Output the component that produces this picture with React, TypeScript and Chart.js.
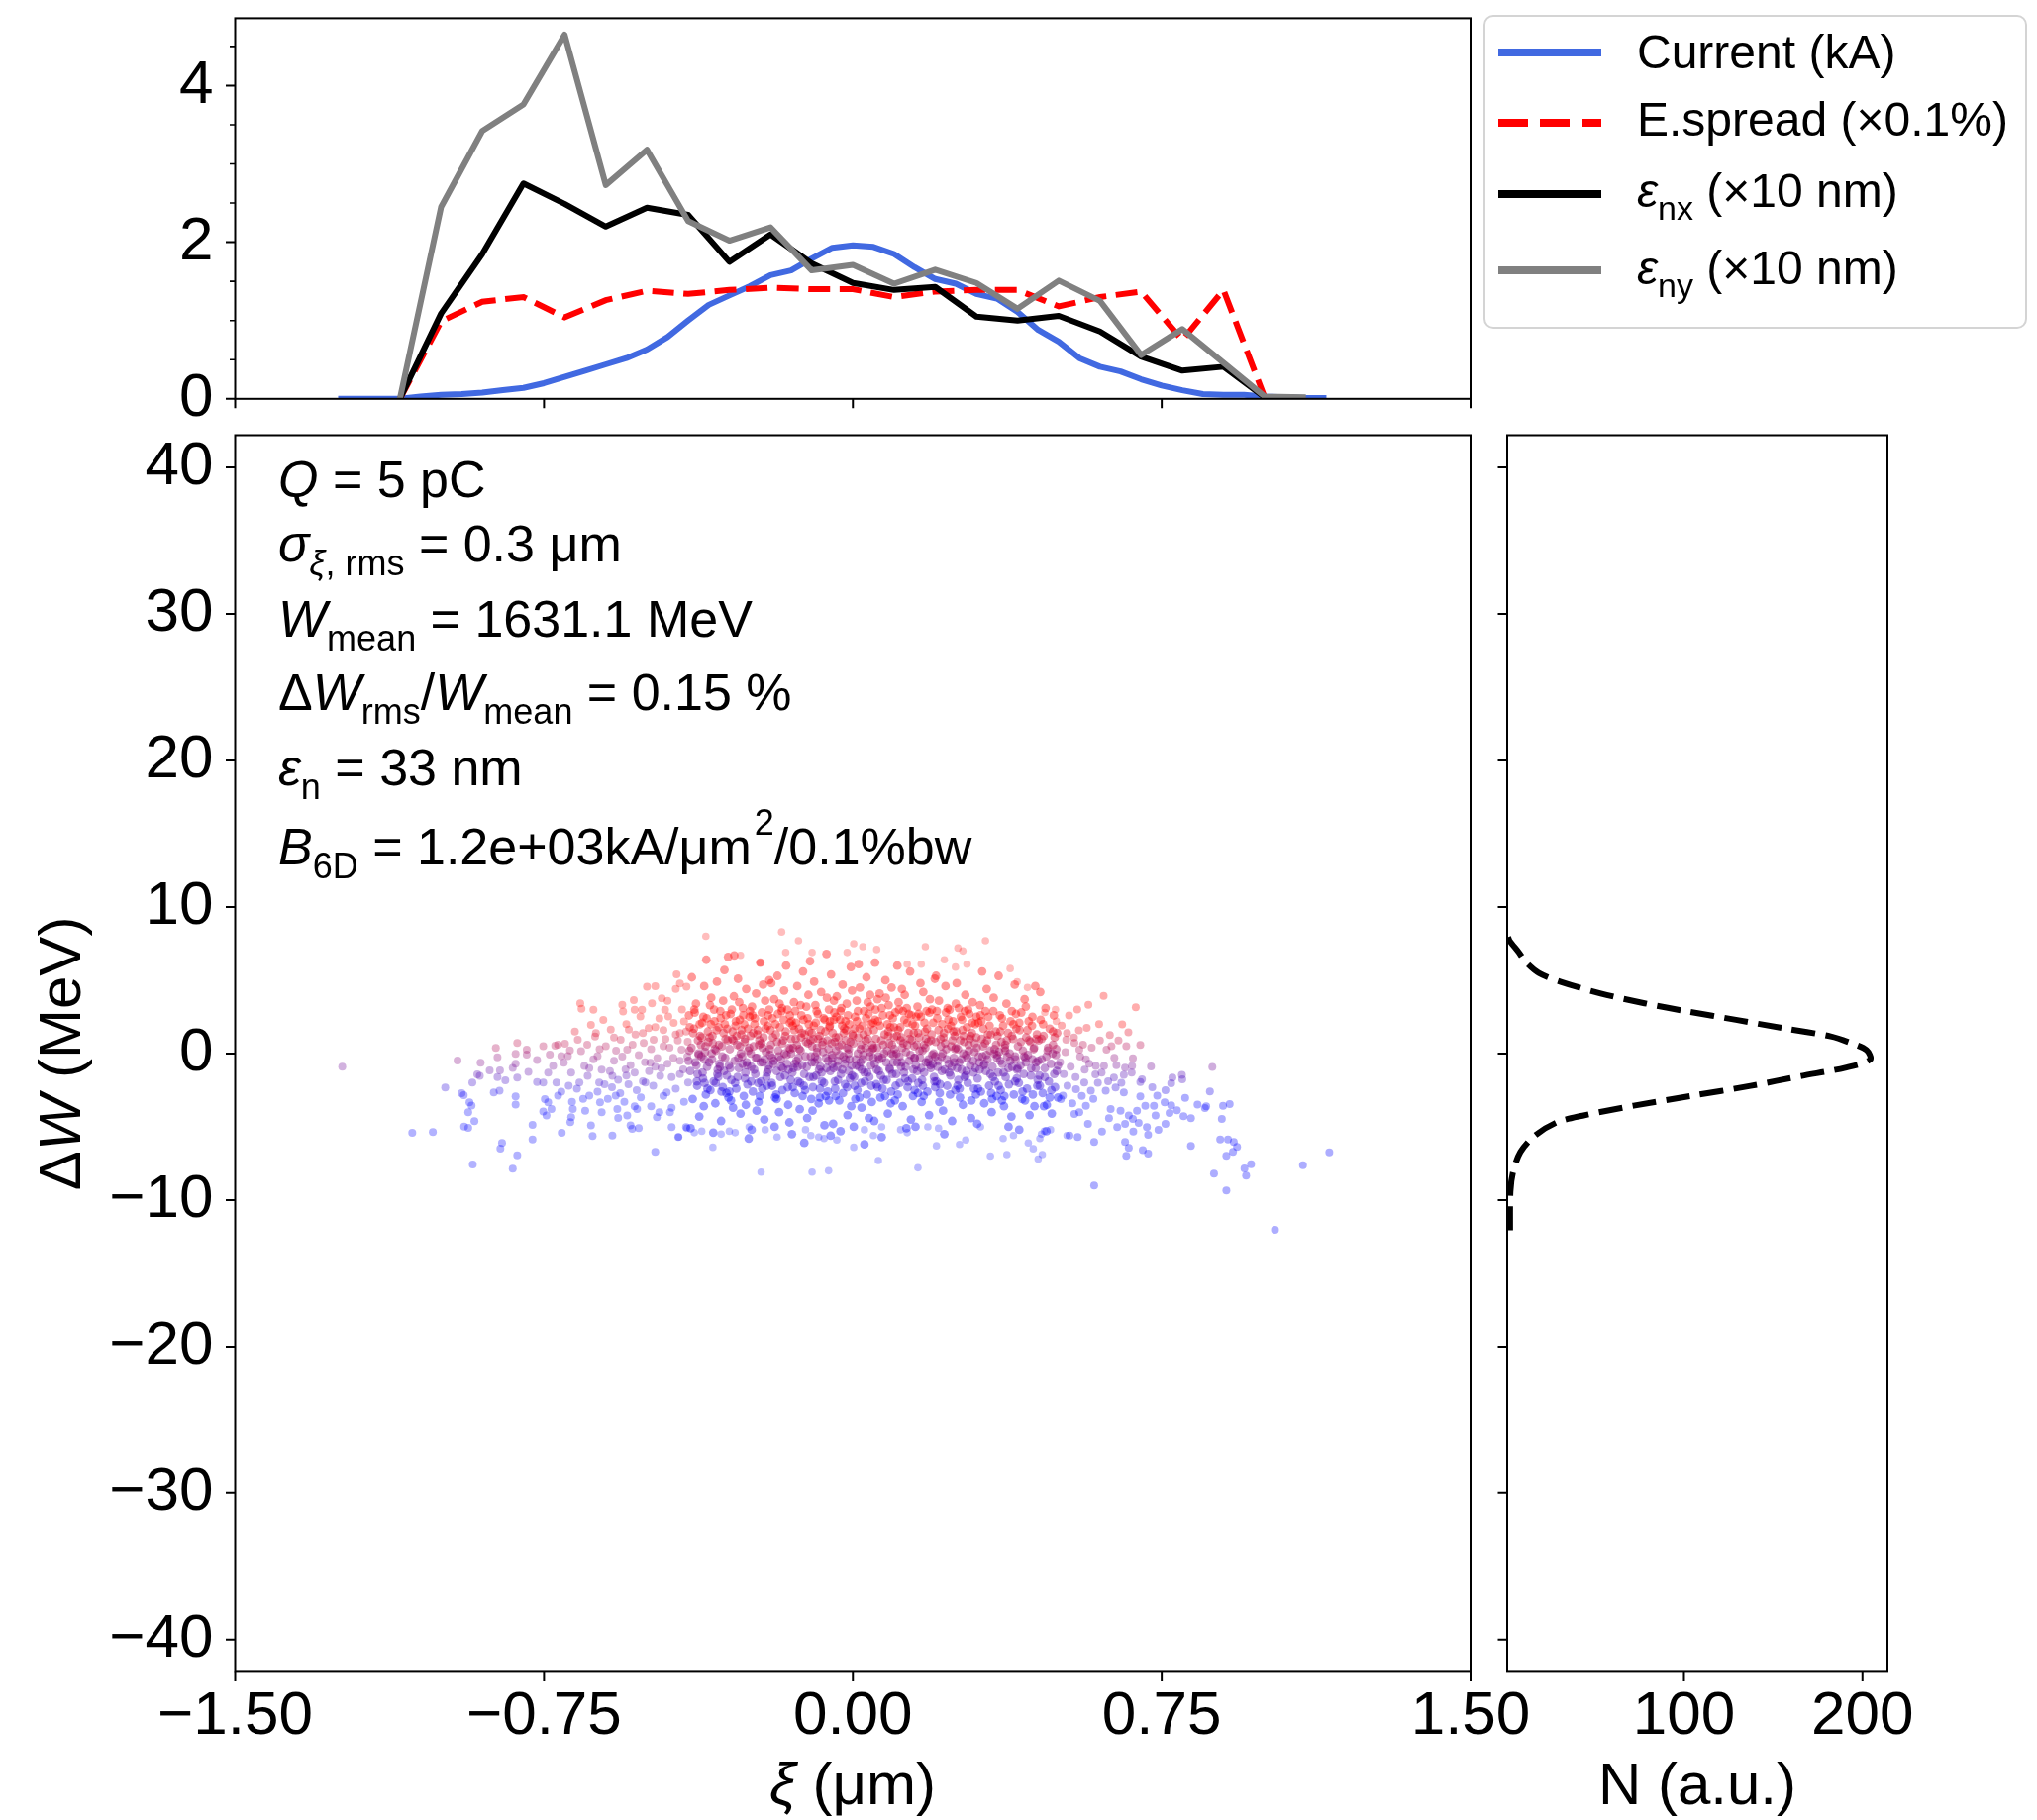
import React, { useEffect, useRef } from 'react';
import { Chart, registerables } from 'chart.js';
Chart.register(...registerables);

const FONT = '"Liberation Sans", Arial, Helvetica, sans-serif';

// ---------- top panel ----------
const xiFine = [-1.25, -1.2, -1.15, -1.1, -1.05, -1.0, -0.95, -0.9, -0.85, -0.8, -0.75, -0.7, -0.65, -0.6, -0.55, -0.5, -0.45, -0.4, -0.35, -0.3, -0.25, -0.2, -0.15, -0.1, -0.05, 0.0, 0.05, 0.1, 0.15, 0.2, 0.25, 0.3, 0.35, 0.4, 0.45, 0.5, 0.55, 0.6, 0.65, 0.7, 0.75, 0.8, 0.85, 0.9, 0.95, 1.0, 1.05, 1.1, 1.15];
const currentKA = [0, 0, 0, 0, 0.03, 0.05, 0.06, 0.08, 0.11, 0.14, 0.2, 0.28, 0.36, 0.44, 0.52, 0.63, 0.79, 1.0, 1.2, 1.32, 1.44, 1.58, 1.64, 1.79, 1.93, 1.96, 1.94, 1.85, 1.68, 1.53, 1.47, 1.34, 1.28, 1.11, 0.88, 0.73, 0.52, 0.41, 0.35, 0.25, 0.17, 0.11, 0.06, 0.05, 0.05, 0.03, 0.02, 0.01, 0.01];
const xiCoarse = [-1.1, -1.0, -0.9, -0.8, -0.7, -0.6, -0.5, -0.4, -0.3, -0.2, -0.1, 0.0, 0.1, 0.2, 0.3, 0.4, 0.5, 0.6, 0.7, 0.8, 0.9, 1.0, 1.1];
const energySpread = [0, 0.99, 1.24, 1.3, 1.04, 1.26, 1.38, 1.34, 1.39, 1.42, 1.4, 1.4, 1.3, 1.37, 1.39, 1.39, 1.18, 1.3, 1.37, 0.75, 1.39, 0.02];
const emitX = [0, 1.09, 1.85, 2.75, 2.49, 2.2, 2.44, 2.35, 1.75, 2.1, 1.73, 1.48, 1.39, 1.43, 1.05, 1.0, 1.06, 0.86, 0.54, 0.36, 0.41, 0.02];
const emitY = [0, 2.45, 3.42, 3.76, 4.65, 2.73, 3.18, 2.27, 2.02, 2.19, 1.64, 1.71, 1.47, 1.65, 1.48, 1.15, 1.51, 1.25, 0.56, 0.89, 0.46, 0.03, 0.02];
const topYTicks = [0, 2, 4];
const topYMinor = [0.5, 1, 1.5, 2.5, 3, 3.5, 4.5];
const xiTicks = [-1.5, -0.75, 0, 0.75, 1.5];

// ---------- main panel ----------
const dwTicks = [-40, -30, -20, -10, 0, 10, 20, 30, 40];

const particlesLeft: [number, number][] = [
[-1.24,-0.9],[-1.07,-5.41],[-1.02,-5.36],[-0.96,-0.47],[-0.99,-2.32],[-0.95,-2.7],[-0.945,-2.85],[-0.924,-1.98],[-0.912,-1.42],[-0.904,-0.63],[-0.906,-1.52],[-0.931,-3.33],[-0.926,-3.55],[-0.934,-4.01],[-0.919,-4.62],[-0.944,-4.98],[-0.934,-5.07],[-0.923,-7.57],
[-0.882,-1.15],[-0.872,-2.66],[-0.858,-2.54],[-0.867,0.39],[-0.863,-0.25],[-0.863,-1.6],[-0.857,-1.15],[-0.844,-1.82],[-0.826,-0.99],[-0.819,-0.7],[-0.819,-0.02],[-0.815,0.72],[-0.815,-1.64],[-0.819,-2.93],[-0.819,-3.49],[-0.852,-6.11],[-0.856,-6.49],[-0.815,-6.94],[-0.826,-7.86],
[-0.788,-1.26],[-0.792,0.27],[-0.792,-0.07],[-0.778,-4.87],[-0.778,-5.86],[-0.767,-0.45],[-0.767,-1.94],[-0.752,0.5],[-0.752,-1.98],[-0.752,-3.96],[-0.748,-3.11],[-0.74,-3.33],[-0.74,-1.3],[-0.736,-0.07],[-0.723,0.54],[-0.716,0.61],[-0.699,0.68],[-0.708,-2.61],[-0.708,-0.18],[-0.707,-5.41],[-0.702,-0.63],[-0.732,-3.78],[-0.72,-1.98],[-0.728,-0.85],[-0.716,-2.88],[-0.744,-4.23],
[-0.692,-0.18],[-0.687,0.21],[-0.684,-1.3],[-0.682,-3.29],[-0.68,-3.78],[-0.684,-4.35],[-0.686,-4.69],[-0.664,-1.98],[-0.662,3.43],[-0.659,3.05],[-0.668,0.95],[-0.66,0.16],[-0.652,-0.85],[-0.644,-1.53],[-0.64,-2.88],[-0.636,-4.91],[-0.632,-5.63],[-0.636,1.96],[-0.63,2.98],[-0.624,1.4],[-0.626,1.17],[-0.62,-0.18],[-0.616,-1.98],[-0.614,-3.33],[-0.61,-4.01],[-0.606,2.3],[-0.67,-2.4],[-0.655,-3.1],[-0.645,0.6],[-0.63,-0.4],[-0.62,-2.6],[-0.61,-1.1],[-0.69,-2.2],[-0.64,-1.0],[-0.675,1.5],[-0.615,0.3],[-0.65,-3.9],[-0.603,-2.1],
[-0.6,0.5],[-0.588,1.63],[-0.584,-5.59],[-0.584,-1.53],[-0.576,-2.88],[-0.572,-3.78],[-0.564,0.95],[-0.56,3.32],[-0.558,2.87],[-0.552,-1.08],[-0.548,0.27],[-0.548,-4.23],[-0.544,1.63],[-0.54,-4.91],[-0.536,-5.14],[-0.532,3.65],[-0.53,2.98],[-0.528,1.29],[-0.524,-3.78],[-0.52,-5.09],[-0.516,2.53],[-0.512,2.98],[-0.508,0.72],[-0.504,-1.98],[-0.59,-1.2],[-0.585,-2.3],[-0.58,-0.5],[-0.575,0.2],[-0.57,-1.8],[-0.565,-2.7],[-0.56,-0.2],[-0.555,-3.3],[-0.55,-1.5],[-0.545,-2.1],[-0.54,-0.8],[-0.535,0.6],[-0.53,-1.3],[-0.525,-2.5],[-0.52,-0.1],[-0.515,-3.0],[-0.51,1.4],[-0.505,-0.6],[-0.595,-3.1],[-0.58,1.1],[-0.55,2.0],[-0.53,-3.6],[-0.51,-1.9],[-0.57,-4.4],
[-0.5,4.56],[-0.496,1.74],[-0.492,-0.63],[-0.488,3.43],[-0.484,0.95],[-0.48,4.6],[-0.476,-4.35],[-0.48,-6.71],[-0.468,-1.53],[-0.464,3.77],[-0.46,0.5],[-0.456,2.98],[-0.452,-2.66],[-0.448,2.53],[-0.444,-4.01],[-0.44,-5.02],[-0.436,-0.29],[-0.43,4.4],[-0.428,5.41],[-0.424,-5.7],[-0.42,4.78],[-0.42,1.4],[-0.416,0.27],[-0.412,-1.08],[-0.405,-5.02],[-0.404,4.56],[-0.4,-1.98],[-0.495,-1.2],[-0.49,0.3],[-0.485,-2.2],[-0.48,1.8],[-0.475,-0.3],[-0.47,2.4],[-0.465,-1.0],[-0.46,-2.9],[-0.455,1.0],[-0.45,-0.7],[-0.445,0.4],[-0.44,-1.6],[-0.435,2.1],[-0.43,-2.4],[-0.425,0.9],[-0.42,-0.5],[-0.415,3.0],[-0.41,-3.3],[-0.405,1.5],[-0.402,-0.2],[-0.49,-3.6],[-0.47,-4.0],[-0.45,3.6],[-0.43,1.3],[-0.41,2.2],[-0.44,-3.7],[-0.46,1.6],[-0.48,-0.9],[-0.42,-1.4],[-0.401,0.8]
];

const particlesCore: [number, number][] = [
[-0.398,2.6],[-0.395,-1.2],[-0.392,0.4],[-0.389,-3.1],[-0.386,1.7],[-0.383,-0.6],[-0.381,3.4],[-0.378,-2.2],[-0.376,0.9],[-0.373,-4.3],[-0.371,1.2],[-0.368,-0.2],[-0.366,2.1],[-0.364,-1.7],[-0.361,4.6],[-0.359,0.1],[-0.357,-2.8],[-0.356,6.4],[-0.354,-0.9],[-0.352,1.5],[-0.394,-5.1],[-0.385,3.0],[-0.377,-1.4],[-0.369,0.6],[-0.362,-3.6],[-0.355,2.4],[-0.391,5.2],[-0.374,-0.1],[-0.36,-2.0],[-0.351,0.8],
[-0.348,1.1],[-0.346,-2.5],[-0.344,3.8],[-0.342,-0.4],[-0.34,0.7],[-0.338,-1.9],[-0.336,2.2],[-0.334,-3.4],[-0.332,0.2],[-0.33,4.9],[-0.328,-1.1],[-0.326,1.8],[-0.324,-0.7],[-0.322,2.9],[-0.32,-4.6],[-0.318,0.5],[-0.316,-2.3],[-0.314,1.4],[-0.312,5.7],[-0.31,-0.3],[-0.308,2.6],[-0.306,-1.5],[-0.304,0.9],[-0.302,-3.0],[-0.347,3.3],[-0.339,-5.4],[-0.331,1.6],[-0.323,-0.9],[-0.315,3.6],[-0.307,-2.7],[-0.343,0.0],[-0.327,-1.6],[-0.311,2.0],[-0.303,6.6],
[-0.299,0.3],[-0.297,2.7],[-0.295,-1.8],[-0.293,1.0],[-0.291,-3.7],[-0.289,3.9],[-0.287,-0.5],[-0.285,1.9],[-0.283,-2.4],[-0.281,0.6],[-0.279,5.1],[-0.277,-1.0],[-0.275,2.3],[-0.273,-4.1],[-0.271,1.3],[-0.269,-0.2],[-0.267,3.1],[-0.265,-2.9],[-0.263,0.8],[-0.261,-1.3],[-0.259,4.4],[-0.257,-0.8],[-0.255,1.7],[-0.253,-5.8],[-0.251,2.5],[-0.296,-3.2],[-0.288,6.7],[-0.28,-1.6],[-0.272,0.0],[-0.264,2.0],[-0.256,-2.1],[-0.292,1.5],[-0.276,3.5],[-0.268,-0.7],[-0.26,-3.5],[-0.252,0.4],
[-0.249,1.2],[-0.247,-0.9],[-0.245,3.2],[-0.243,-2.6],[-0.241,0.5],[-0.239,2.0],[-0.237,-1.4],[-0.235,4.1],[-0.233,-0.3],[-0.231,1.6],[-0.229,-3.3],[-0.227,0.9],[-0.225,6.2],[-0.223,-1.9],[-0.221,2.8],[-0.219,-0.6],[-0.217,1.1],[-0.215,-4.5],[-0.213,3.6],[-0.211,0.1],[-0.209,-2.2],[-0.207,1.9],[-0.205,-1.1],[-0.203,5.0],[-0.201,-0.1],[-0.246,-5.2],[-0.238,2.4],[-0.23,-2.0],[-0.222,0.7],[-0.214,-0.4],[-0.206,2.6],[-0.242,1.4],[-0.226,-2.9],[-0.218,4.7],[-0.21,-1.6],[-0.202,0.3],[-0.234,-3.9],[-0.25,2.9],
[-0.199,0.6],[-0.197,-2.0],[-0.195,2.4],[-0.193,-0.7],[-0.191,3.7],[-0.189,-3.0],[-0.187,1.3],[-0.185,-1.2],[-0.183,5.3],[-0.181,0.2],[-0.179,-4.0],[-0.177,1.8],[-0.175,-0.4],[-0.173,2.9],[-0.171,-2.5],[-0.169,0.9],[-0.167,4.3],[-0.165,-1.5],[-0.163,1.5],[-0.161,-0.1],[-0.159,3.0],[-0.157,-3.5],[-0.155,0.4],[-0.153,2.1],[-0.151,-1.8],[-0.198,4.8],[-0.19,-5.0],[-0.182,2.7],[-0.174,-0.9],[-0.166,0.0],[-0.158,-2.3],[-0.15,1.0],[-0.194,1.1],[-0.186,-2.8],[-0.178,3.4],[-0.17,-1.0],[-0.162,6.0],[-0.154,-4.7],[-0.196,-0.3],[-0.172,0.7],
[-0.149,2.2],[-0.147,-1.3],[-0.145,0.4],[-0.143,3.5],[-0.141,-2.7],[-0.139,1.0],[-0.137,-0.5],[-0.135,4.6],[-0.133,-1.9],[-0.131,1.7],[-0.129,-3.8],[-0.127,0.2],[-0.125,2.6],[-0.123,-0.8],[-0.121,5.6],[-0.119,-2.2],[-0.117,1.3],[-0.115,-0.2],[-0.113,3.2],[-0.111,-4.4],[-0.109,0.7],[-0.107,2.0],[-0.105,-1.6],[-0.103,0.9],[-0.101,-3.1],[-0.148,-5.5],[-0.14,2.9],[-0.132,-0.3],[-0.124,1.4],[-0.116,-2.5],[-0.108,4.0],[-0.1,-0.6],[-0.144,-1.0],[-0.136,0.6],[-0.128,-2.0],[-0.12,2.3],[-0.112,-0.9],[-0.104,6.3],[-0.146,1.9],[-0.118,-6.1],
[-0.099,0.5],[-0.097,-2.3],[-0.095,1.9],[-0.093,-0.6],[-0.091,3.3],[-0.089,-1.5],[-0.087,0.1],[-0.085,2.7],[-0.083,-3.4],[-0.081,1.2],[-0.079,-0.9],[-0.077,4.2],[-0.075,-1.9],[-0.073,0.8],[-0.071,2.4],[-0.069,-4.9],[-0.067,1.5],[-0.065,-0.3],[-0.063,3.8],[-0.061,-2.6],[-0.059,0.3],[-0.057,1.8],[-0.055,-1.2],[-0.053,5.4],[-0.051,-0.1],[-0.098,-3.9],[-0.09,2.1],[-0.082,-1.1],[-0.074,0.6],[-0.066,-2.9],[-0.058,3.0],[-0.05,-0.7],[-0.094,4.9],[-0.086,-0.4],[-0.078,1.6],[-0.07,-2.0],[-0.062,0.9],[-0.054,-5.6],[-0.096,1.0],[-0.08,-3.0],[-0.064,6.8],[-0.056,2.2],
[-0.049,1.4],[-0.047,-1.0],[-0.045,2.8],[-0.043,-2.4],[-0.041,0.2],[-0.039,3.9],[-0.037,-0.5],[-0.035,1.1],[-0.033,-3.2],[-0.031,2.3],[-0.029,-1.4],[-0.027,0.6],[-0.025,4.7],[-0.023,-0.2],[-0.021,1.7],[-0.019,-2.1],[-0.017,0.9],[-0.015,3.4],[-0.013,-4.2],[-0.011,0.0],[-0.009,2.0],[-0.007,-1.7],[-0.005,5.9],[-0.003,-0.8],[-0.001,1.3],[-0.048,-4.8],[-0.04,2.5],[-0.032,-0.1],[-0.024,-2.7],[-0.016,1.6],[-0.008,-0.4],[-0.044,0.8],[-0.036,-1.8],[-0.028,3.1],[-0.02,-0.7],[-0.012,2.6],[-0.004,-3.6],[-0.046,3.6],[-0.03,-5.3],[-0.014,0.4],[-0.042,-2.9],[-0.026,1.9],[-0.01,-1.2],[-0.002,4.3],
[0.001,0.7],[0.003,-1.6],[0.005,2.5],[0.007,-0.4],[0.009,3.6],[0.011,-2.5],[0.013,1.1],[0.015,-0.9],[0.017,4.5],[0.019,0.3],[0.021,-3.7],[0.023,1.9],[0.025,-0.1],[0.027,2.9],[0.029,-1.9],[0.031,0.9],[0.033,5.2],[0.035,-1.3],[0.037,1.5],[0.039,-4.4],[0.041,0.1],[0.043,3.2],[0.045,-2.2],[0.047,0.6],[0.049,2.1],[0.002,-5.0],[0.01,2.2],[0.018,-0.6],[0.026,1.3],[0.034,-2.8],[0.042,4.0],[0.05,-0.3],[0.006,-3.1],[0.014,6.1],[0.022,-1.1],[0.03,0.4],[0.038,2.7],[0.046,-3.3],[0.004,1.7],[0.02,-2.0],[0.036,3.5],[0.044,-0.8],[0.012,0.0],[0.028,-6.2],
[0.051,1.6],[0.053,-0.7],[0.055,3.0],[0.057,-2.1],[0.059,0.4],[0.061,2.2],[0.063,-1.2],[0.065,4.1],[0.067,-3.0],[0.069,0.9],[0.071,-0.3],[0.073,2.6],[0.075,-1.8],[0.077,1.3],[0.079,5.0],[0.081,-0.6],[0.083,0.2],[0.085,-4.1],[0.087,3.3],[0.089,-1.0],[0.091,1.8],[0.093,-2.6],[0.095,0.6],[0.097,2.4],[0.099,-0.1],[0.052,-4.6],[0.06,3.7],[0.068,-1.5],[0.076,0.0],[0.084,2.0],[0.092,-3.4],[0.1,1.1],[0.056,1.0],[0.064,-0.4],[0.072,-2.4],[0.08,3.8],[0.088,0.7],[0.096,-1.4],[0.054,6.2],[0.07,-5.7],[0.086,1.5],[0.094,4.5],
[0.101,0.3],[0.103,2.8],[0.105,-1.4],[0.107,1.2],[0.109,-2.8],[0.111,3.5],[0.113,-0.2],[0.115,1.8],[0.117,-0.9],[0.119,4.4],[0.121,-3.6],[0.123,0.7],[0.125,2.3],[0.127,-1.7],[0.129,0.1],[0.131,3.1],[0.133,-2.3],[0.135,1.4],[0.137,-0.5],[0.139,5.6],[0.141,-4.5],[0.143,0.9],[0.145,2.0],[0.147,-1.1],[0.149,0.5],[0.102,-3.2],[0.11,1.6],[0.118,-0.6],[0.126,4.0],[0.134,-1.9],[0.142,2.6],[0.15,-0.3],[0.106,0.0],[0.114,-2.0],[0.122,2.9],[0.13,-5.1],[0.138,1.0],[0.146,-2.9],[0.108,6.0],[0.132,0.6],
[0.151,1.9],[0.153,-0.8],[0.155,0.6],[0.157,3.2],[0.159,-2.0],[0.161,1.1],[0.163,-0.3],[0.165,2.5],[0.167,-3.3],[0.169,0.2],[0.171,4.2],[0.173,-1.3],[0.175,1.5],[0.177,-0.6],[0.179,2.9],[0.181,-2.6],[0.183,0.8],[0.185,-4.2],[0.187,3.7],[0.189,-1.0],[0.191,1.3],[0.193,-0.1],[0.195,2.1],[0.197,-1.6],[0.199,5.1],[0.152,-5.0],[0.16,2.7],[0.168,-1.8],[0.176,0.4],[0.184,-0.4],[0.192,3.0],[0.2,-2.3],[0.156,-1.2],[0.164,4.8],[0.172,-2.9],[0.18,1.7],[0.188,-0.8],[0.196,0.0],
[0.201,0.8],[0.203,-1.9],[0.205,2.4],[0.207,-0.5],[0.209,3.6],[0.211,-2.7],[0.213,1.0],[0.215,-0.2],[0.217,2.0],[0.219,-3.9],[0.221,1.4],[0.223,-1.1],[0.225,4.6],[0.227,0.3],[0.229,-2.2],[0.231,1.7],[0.233,-0.7],[0.235,3.0],[0.237,-1.5],[0.239,0.5],[0.241,-4.6],[0.243,2.2],[0.245,-0.3],[0.247,1.2],[0.249,-2.5],[0.202,5.3],[0.21,-3.3],[0.218,0.0],[0.226,2.8],[0.234,-1.3],[0.242,0.9],[0.25,3.4],[0.206,-0.9],[0.222,-5.5],[0.238,1.9],[0.246,-0.6],
[0.251,1.5],[0.253,-1.0],[0.255,0.3],[0.257,3.1],[0.259,-2.4],[0.261,0.9],[0.263,-0.4],[0.265,2.3],[0.267,-3.5],[0.269,1.2],[0.271,-1.6],[0.273,4.0],[0.275,-0.1],[0.277,1.8],[0.279,-2.0],[0.281,0.6],[0.283,2.7],[0.285,-0.8],[0.287,-4.4],[0.289,1.4],[0.291,3.5],[0.293,-1.3],[0.295,0.1],[0.297,2.0],[0.299,-2.8],[0.252,4.8],[0.26,-3.0],[0.268,0.0],[0.276,-1.2],[0.284,1.0],[0.292,-0.5],[0.3,2.5],[0.256,-1.8],[0.272,2.9],[0.288,-3.2],[0.296,0.7],
[0.301,0.4],[0.303,-1.7],[0.305,2.1],[0.307,-0.6],[0.309,3.3],[0.311,-2.6],[0.313,1.0],[0.315,-0.2],[0.317,1.7],[0.319,-3.4],[0.321,0.7],[0.323,-1.2],[0.325,4.4],[0.327,-0.4],[0.329,2.5],[0.331,-2.2],[0.333,0.2],[0.335,1.3],[0.337,-4.0],[0.339,-0.9],[0.341,2.9],[0.343,0.0],[0.345,-1.9],[0.347,1.5],[0.349,-2.9],[0.302,-4.8],[0.31,2.6],[0.318,-0.8],[0.326,0.9],[0.334,-1.4],[0.342,3.8],[0.35,-0.3],[0.314,5.6],[0.338,-3.1],
[0.351,1.2],[0.353,-1.3],[0.355,0.1],[0.357,2.6],[0.359,-2.5],[0.361,0.8],[0.363,-0.7],[0.365,1.9],[0.367,-3.6],[0.369,0.4],[0.371,-1.6],[0.373,3.4],[0.375,-0.2],[0.377,1.4],[0.379,-2.1],[0.381,0.0],[0.383,2.2],[0.385,-4.3],[0.387,-0.9],[0.389,1.0],[0.391,-2.8],[0.393,4.7],[0.395,-0.4],[0.397,1.7],[0.399,-1.1],[0.354,5.3],[0.362,-3.2],[0.37,0.6],[0.378,-5.0],[0.386,2.9],[0.394,-1.9],[0.358,-0.5],
[0.401,0.5],[0.403,-2.0],[0.405,1.6],[0.407,-0.8],[0.409,2.8],[0.411,-3.1],[0.413,0.2],[0.415,-1.4],[0.417,3.7],[0.419,-0.3],[0.421,1.1],[0.423,-2.4],[0.425,-0.1],[0.427,2.2],[0.429,-4.2],[0.431,0.8],[0.433,-1.0],[0.435,1.9],[0.437,-2.8],[0.439,0.3],[0.441,-3.6],[0.443,4.6],[0.445,-0.6],[0.447,1.3],[0.449,-1.8],[0.404,-5.2],[0.42,3.2],[0.436,-0.4],
[0.451,0.9],[0.453,-1.5],[0.456,2.3],[0.458,-0.4],[0.461,-2.7],[0.463,1.2],[0.466,-1.0],[0.468,3.1],[0.471,-3.5],[0.473,0.2],[0.476,-1.9],[0.478,1.7],[0.481,-0.7],[0.483,-4.1],[0.486,0.6],[0.488,2.6],[0.491,-2.3],[0.493,-0.1],[0.496,1.4],[0.498,-3.0],[0.455,4.2],[0.47,-5.3],[0.485,0.0],[0.495,-1.2]
];

const particlesCoreDense: [number, number][] = [
[-0.397,0.2],[-0.388,1.4],[-0.38,-0.8],[-0.372,2.0],[-0.365,-1.3],[-0.358,0.5],[-0.353,-2.4],[-0.399,-0.5],[-0.384,2.8],[-0.375,0.0],[-0.367,1.1],[-0.361,-0.4],[-0.396,1.8],[-0.379,-1.9],[-0.363,2.5],
[-0.349,-0.6],[-0.341,1.2],[-0.335,0.3],[-0.329,-1.4],[-0.321,2.4],[-0.317,-0.2],[-0.309,1.0],[-0.301,-0.8],[-0.345,2.0],[-0.333,-2.0],[-0.325,0.6],[-0.313,-1.2],[-0.305,1.7],[-0.337,3.0],[-0.319,-2.6],
[-0.298,-1.0],[-0.29,0.9],[-0.284,2.2],[-0.278,-0.3],[-0.27,1.6],[-0.262,-1.7],[-0.254,0.2],[-0.294,3.0],[-0.286,-2.0],[-0.274,0.5],[-0.266,2.6],[-0.258,-0.6],[-0.282,1.2],[-0.3,-2.6],[-0.262,1.0],
[-0.248,0.0],[-0.24,-1.1],[-0.232,1.3],[-0.224,-0.6],[-0.216,2.2],[-0.208,-1.3],[-0.244,2.6],[-0.236,-0.3],[-0.228,0.6],[-0.22,-2.4],[-0.212,1.7],[-0.204,-0.8],[-0.247,-1.9],[-0.219,0.4],[-0.203,3.0],
[-0.2,1.6],[-0.192,-0.5],[-0.184,0.8],[-0.176,-1.6],[-0.168,2.3],[-0.16,-0.7],[-0.152,0.3],[-0.196,-2.2],[-0.188,2.0],[-0.18,-0.2],[-0.164,1.2],[-0.156,-1.1],[-0.172,3.1],[-0.185,-3.1],[-0.153,2.6],
[-0.15,0.0],[-0.142,1.6],[-0.134,-0.9],[-0.126,1.1],[-0.118,-1.4],[-0.11,2.4],[-0.102,-0.2],[-0.146,-2.3],[-0.138,2.1],[-0.13,0.3],[-0.122,-2.9],[-0.114,0.8],[-0.106,1.5],[-0.127,3.3],[-0.141,-0.7],
[-0.1,1.4],[-0.092,-0.2],[-0.084,1.0],[-0.076,-1.3],[-0.068,2.3],[-0.06,-0.5],[-0.052,0.7],[-0.096,-1.6],[-0.088,2.9],[-0.072,0.1],[-0.064,-1.0],[-0.056,1.9],[-0.08,-2.4],[-0.058,-3.2],[-0.087,0.4],
[-0.05,-0.3],[-0.042,1.1],[-0.034,0.5],[-0.026,-1.1],[-0.018,2.2],[-0.01,0.3],[-0.002,-1.5],[-0.046,2.3],[-0.038,-0.9],[-0.022,1.4],[-0.014,-2.3],[-0.006,0.8],[-0.03,2.9],[-0.044,-1.9],[-0.018,-0.4],
[0.0,1.2],[0.008,-0.8],[0.016,1.7],[0.024,-0.4],[0.032,2.4],[0.04,-1.6],[0.048,0.3],[0.004,-2.2],[0.012,2.9],[0.02,0.6],[0.028,-1.3],[0.036,1.0],[0.044,2.0],[0.016,-3.0],[0.04,-0.2],
[0.05,0.4],[0.058,-1.1],[0.066,1.9],[0.074,0.6],[0.082,-1.8],[0.09,2.6],[0.098,-0.6],[0.054,2.3],[0.062,-0.2],[0.078,-2.9],[0.086,1.2],[0.094,0.0],[0.07,3.1],[0.06,-2.3],[0.09,-1.1],
[0.1,1.8],[0.108,-0.6],[0.116,0.9],[0.124,-1.3],[0.132,2.1],[0.14,-0.1],[0.148,1.4],[0.104,-2.2],[0.112,3.0],[0.12,0.4],[0.128,-0.9],[0.136,2.7],[0.144,-1.7],[0.118,1.1],[0.15,-2.5],
[0.15,-0.3],[0.158,1.4],[0.166,-1.0],[0.174,2.1],[0.182,-0.6],[0.19,0.9],[0.198,-1.9],[0.154,2.5],[0.162,0.2],[0.17,-2.2],[0.178,1.0],[0.186,2.8],[0.194,-0.7],[0.173,0.6],[0.158,-2.7],
[0.2,-0.2],[0.208,1.6],[0.216,-1.2],[0.224,0.7],[0.232,2.3],[0.24,-0.9],[0.248,0.3],[0.204,2.9],[0.212,-2.1],[0.22,1.1],[0.228,-0.4],[0.236,-2.8],[0.244,1.5],[0.214,0.5],[0.23,3.1],
[0.25,0.4],[0.258,-0.6],[0.266,1.6],[0.274,-1.5],[0.282,0.2],[0.29,2.1],[0.298,-1.0],[0.254,-2.2],[0.262,2.5],[0.27,0.8],[0.278,-0.3],[0.286,1.2],[0.294,-2.4],[0.264,-1.1],[0.28,3.0],
[0.3,1.1],[0.308,-1.1],[0.316,0.5],[0.324,-0.1],[0.332,1.9],[0.34,-1.6],[0.348,0.6],[0.304,-2.4],[0.312,2.2],[0.32,-0.7],[0.328,1.3],[0.336,-2.7],[0.344,0.3],[0.322,2.9],[0.306,-0.2],
[0.35,-0.1],[0.358,1.5],[0.366,-1.3],[0.374,0.9],[0.382,-0.5],[0.39,2.0],[0.398,-1.7],[0.354,-2.2],[0.362,2.4],[0.37,0.2],[0.378,-1.0],[0.386,1.2],[0.394,-0.2],[0.368,-2.9],[0.396,2.7],
[0.4,-1.0],[0.408,0.8],[0.416,-0.2],[0.424,1.6],[0.432,-1.5],[0.44,0.4],[0.448,-2.2],[0.404,2.1],[0.412,-2.6],[0.42,-0.6],[0.428,0.9],[0.436,2.5],[0.444,-1.0],[0.418,-3.2],[0.446,1.0],
[0.45,-0.5],[0.458,1.0],[0.466,-1.6],[0.474,0.4],[0.482,-2.5],[0.49,1.1],[0.498,-0.8],[0.454,-2.2],[0.462,2.0],[0.47,-0.2],[0.478,-3.0],[0.486,1.5],[0.494,0.3],[0.464,-3.6],[0.489,-1.4]
];

const particlesRight: [number, number][] = [
[0.572,3.32],[0.609,3.93],[0.687,3.16],[0.598,2.01],[0.568,1.76],[0.549,1.58],[0.52,1.4],[0.654,1.99],[0.669,1.45],[0.698,0.59],[0.624,1.27],[0.645,0.9],[0.616,0.27],[0.635,-0.29],[0.664,0.5],[0.68,-0.33],[0.724,-0.88],[0.678,-0.85],[0.661,-0.97],[0.677,-1.3],[0.658,-1.46],[0.698,-1.94],[0.702,-1.76],[0.634,-1.64],[0.61,-0.85],[0.589,-1.42],[0.59,-0.85],[0.566,-0.4],[0.55,0.27],[0.538,0.72],[0.518,0.95],[0.562,-1.98],[0.542,-2.43],[0.578,-2.54],[0.614,-2.54],[0.638,-2.32],[0.658,-2.66],[0.698,-2.93],[0.71,-3.56],[0.69,-3.9],[0.67,-4.23],[0.65,-3.9],[0.626,-3.78],[0.622,-4.42],[0.642,-5.02],[0.661,-4.8],[0.68,-4.46],[0.694,-4.73],[0.714,-5.02],[0.717,-5.54],[0.681,-5.32],[0.661,-6.04],[0.67,-6.44],[0.664,-6.98],[0.704,-6.6],[0.717,-6.83],[0.605,-5.32],[0.586,-6.04],[0.586,-9.01],[0.571,-4.8],[0.55,-4.01],[0.538,-4.12],[0.526,-5.59],[0.546,-5.7],[0.566,-3.56],[0.51,-2.88],[0.505,-3.11],
[0.503,-0.6],[0.507,1.9],[0.512,-1.4],[0.516,0.1],[0.521,-2.2],[0.525,2.6],[0.529,-0.9],[0.533,-3.4],[0.537,1.1],[0.541,-1.6],[0.545,3.0],[0.552,-0.2],[0.556,-2.9],[0.559,0.6],[0.563,-1.1],[0.574,-0.7],[0.58,0.4],[0.584,-3.1],[0.595,-2.0],[0.6,0.9],[0.604,-1.3],[0.62,-1.9],[0.628,0.5],[0.64,-0.8],[0.652,-2.0],
[0.759,-2.5],[0.773,-2.03],[0.776,-1.64],[0.799,-1.46],[0.8,-1.76],[0.807,-3.02],[0.773,-3.54],[0.769,-4.05],[0.787,-3.87],[0.803,-4.28],[0.821,-4.42],[0.837,-3.49],[0.855,-3.72],[0.858,-3.6],[0.867,-2.59],[0.873,-0.92],[0.899,-3.56],[0.915,-3.45],[0.896,-4.46],[0.892,-5.86],[0.911,-5.86],[0.925,-6.04],[0.933,-6.38],[0.923,-6.71],[0.907,-6.98],[0.877,-8.2],[0.907,-9.35],[0.951,-7.84],[0.967,-7.55],[0.955,-8.34],[1.025,-12.03],[1.093,-7.62],[1.157,-6.74],[0.759,-4.8],[0.821,-6.31],[0.757,-3.33],[0.735,-4.23],[0.731,-3.56],[0.739,-2.88],[0.727,-2.3],[0.742,-5.2]
];

const particlesOutliers: [number, number][] = [
[-0.357,8.0],[-0.173,8.3],[-0.132,7.7],[-0.099,6.9],[-0.163,6.9],[-0.273,6.7],[-0.225,6.2],[0.002,7.5],[-0.014,6.9],[0.024,7.3],[0.058,7.1],[0.176,7.3],[0.255,7.2],[0.267,7.0],[0.322,7.7],[0.222,6.4],[0.132,6.1],[0.166,6.1],[0.249,5.9],[0.277,6.1],[0.382,5.8],[0.399,4.9],[0.424,4.5],[0.466,2.8],[0.492,3.0],[0.494,2.2],
[-0.223,-8.1],[-0.099,-8.1],[-0.059,-8.0],[0.158,-7.8],[0.062,-7.3],[-0.34,-6.4],[-0.423,-5.7],[0.002,-6.4],[-0.039,-5.9],[0.203,-6.3],[0.259,-6.2],[0.274,-5.9],[0.334,-7.0],[0.374,-6.9],[0.426,-6.1],[0.438,-6.5],[0.45,-7.2],[0.46,-6.9],[0.458,-5.5],[0.454,-5.8],[0.52,-5.6],[-0.184,-5.7],[-0.32,-5.5],[-0.3,-5.3],[-0.286,-5.4],[-0.403,-5.1],[-0.385,-5.4],[-0.367,-5.3],[-0.252,-5.0],[-0.213,-5.2],[-0.083,-5.7],[-0.07,-5.8],[-0.102,-5.6],[-0.115,-5.2],[0.028,-5.2],[0.05,-5.6],[0.07,-5.0],[0.116,-5.2],[0.132,-5.4],[0.182,-5.0],[0.208,-5.1],[0.31,-5.0],[0.365,-5.8],[0.39,-5.6],[0.465,-5.3],[0.48,-5.2]
];

// ---------- side histogram ----------
const histN = [1.5, 2.3, 7.4, 11.5, 18.7, 31.0, 53.4, 77.9, 102.5, 129.1, 155.7, 182.2, 193.5, 202.3, 204.3, 190.4, 165.9, 137.3, 104.6, 71.8, 43.2, 28.9, 16.6, 8.4, 4.3, 2.8, 2.6];
const histDW = [7.95, 7.71, 6.92, 6.24, 5.5, 4.89, 4.1, 3.43, 2.86, 2.3, 1.73, 1.17, 0.72, 0.23, -0.41, -0.97, -1.53, -2.21, -2.88, -3.56, -4.24, -4.69, -5.59, -6.72, -8.07, -9.42, -12.24];
const histTicks = [100, 200];

const fmt = (v: number, d: number) => (v < 0 ? '\u2212' : '') + Math.abs(v).toFixed(d);

function particleColor(w: number, a: number) {
  const t = Math.max(0, Math.min(1, (w + 3) / 5));
  return `rgba(${Math.round(255 * t)},0,${Math.round(255 * (1 - t))},${a})`;
}

function framePlugin(xMajor: number[], yMajor: number[], yMinor: number[] = []) {
  return {
    id: 'frame',
    afterDraw(chart: any) {
      const { ctx, chartArea: a, scales } = chart;
      ctx.save();
      ctx.strokeStyle = '#000';
      ctx.lineWidth = 2;
      ctx.strokeRect(a.left, a.top, a.right - a.left, a.bottom - a.top);
      ctx.beginPath();
      for (const v of xMajor) {
        const p = scales.x.getPixelForValue(v);
        ctx.moveTo(p, a.bottom);
        ctx.lineTo(p, a.bottom + 9.5);
      }
      for (const v of yMajor) {
        const p = scales.y.getPixelForValue(v);
        ctx.moveTo(a.left, p);
        ctx.lineTo(a.left - 9.5, p);
      }
      ctx.stroke();
      ctx.lineWidth = 1.6;
      ctx.beginPath();
      for (const v of yMinor) {
        const p = scales.y.getPixelForValue(v);
        ctx.moveTo(a.left, p);
        ctx.lineTo(a.left - 5.5, p);
      }
      ctx.stroke();
      ctx.restore();
    },
  };
}

const noGrid = { display: false, drawTicks: false };
const noBorder = { display: false };
const tickFont = { family: FONT, size: 62 };
const fixW = (w: number) => (s: any) => { s.width = w; s.paddingTop = 0; s.paddingBottom = 0; s.paddingLeft = 0; s.paddingRight = 0; };
const fixH = (h: number) => (s: any) => { s.height = h; s.paddingTop = 0; s.paddingBottom = 0; s.paddingLeft = 0; s.paddingRight = 0; };

export default function App() {
  const topRef = useRef<HTMLCanvasElement>(null);
  const mainRef = useRef<HTMLCanvasElement>(null);
  const sideRef = useRef<HTMLCanvasElement>(null);

  useEffect(() => {
    document.body.style.margin = '0';
    const charts: Chart[] = [];
    const toXY = (xs: number[], ys: number[]) => ys.map((y, i) => ({ x: xs[i], y }));

    charts.push(new Chart(topRef.current!, {
      type: 'line',
      data: {
        datasets: [
          { label: 'Current (kA)', data: toXY(xiFine, currentKA), borderColor: 'rgb(65,105,225)', borderWidth: 6, pointRadius: 0, order: 3, borderJoinStyle: 'round' },
          { label: 'E.spread', data: toXY(xiCoarse, energySpread), borderColor: 'rgb(255,0,0)', borderWidth: 6, borderDash: [22, 9.6], pointRadius: 0, order: 2 },
          { label: 'enx', data: toXY(xiCoarse, emitX), borderColor: '#000', borderWidth: 6, pointRadius: 0, order: 1, borderJoinStyle: 'round' },
          { label: 'eny', data: toXY(xiCoarse, emitY), borderColor: 'rgb(128,128,128)', borderWidth: 6, pointRadius: 0, order: 0, borderJoinStyle: 'round' },
        ],
      },
      options: {
        animation: false, responsive: false, events: [],
        layout: { padding: { left: 0, right: 15, top: 18.4, bottom: 0 } },
        plugins: { legend: { display: false }, tooltip: { enabled: false } },
        scales: {
          x: { type: 'linear', min: -1.5, max: 1.5, grid: noGrid, border: noBorder, ticks: { display: false },
            afterFit: fixH(37.2) },
          y: { type: 'linear', min: 0, max: 4.86, grid: noGrid, border: noBorder,
            ticks: { font: tickFont, color: '#000', padding: 22, callback: (v: any) => fmt(Number(v), 0) },
            afterBuildTicks: (s: any) => { s.ticks = topYTicks.map((v) => ({ value: v })); },
            afterFit: fixW(237.5) },
        },
      },
      plugins: [framePlugin(xiTicks, topYTicks, topYMinor)],
    } as any));

    const mkSet = (pts: [number, number][], a: number, r: number) => ({
      data: pts.map(([x, y]) => ({ x, y })),
      pointBackgroundColor: pts.map(([, y]) => particleColor(y, a)),
      pointBorderWidth: 0, pointRadius: r, pointHoverRadius: r, showLine: false,
    });

    charts.push(new Chart(mainRef.current!, {
      type: 'scatter',
      data: {
        datasets: [
          mkSet(particlesLeft, 0.3, 4.0),
          mkSet(particlesCore, 0.4, 4.4),
          mkSet(particlesCoreDense, 0.4, 4.4),
          mkSet(particlesRight, 0.32, 4.0),
          mkSet(particlesOutliers, 0.26, 3.8),
        ],
      },
      options: {
        animation: false, responsive: false, events: [],
        layout: { padding: { left: 0, right: 115, top: 19.5, bottom: 0 } },
        plugins: { legend: { display: false }, tooltip: { enabled: false } },
        scales: {
          x: { type: 'linear', min: -1.5, max: 1.5, grid: noGrid, border: noBorder,
            ticks: { font: tickFont, color: '#000', padding: 8, maxRotation: 0, minRotation: 0, autoSkip: false, callback: (v: any) => fmt(Number(v), 2) },
            afterBuildTicks: (s: any) => { s.ticks = xiTicks.map((v) => ({ value: v })); },
            afterFit: fixH(149.6) },
          y: { type: 'linear', min: -42.2, max: 42.2, grid: noGrid, border: noBorder,
            ticks: { font: tickFont, color: '#000', padding: 22, autoSkip: false, callback: (v: any) => fmt(Number(v), 0) },
            afterBuildTicks: (s: any) => { s.ticks = dwTicks.map((v) => ({ value: v })); },
            afterFit: fixW(237.5) },
        },
      },
      plugins: [framePlugin(xiTicks, dwTicks)],
    } as any));

    charts.push(new Chart(sideRef.current!, {
      type: 'scatter',
      data: {
        datasets: [{
          data: toXY(histN, histDW), showLine: true, borderColor: '#000', borderWidth: 6,
          borderDash: [24, 10.5], pointRadius: 0, tension: 0.3, fill: false,
        }],
      },
      options: {
        animation: false, responsive: false, events: [],
        layout: { padding: { left: 0, right: 151, top: 19.5, bottom: 0 } },
        plugins: { legend: { display: false }, tooltip: { enabled: false } },
        scales: {
          x: { type: 'linear', min: 1, max: 214, grid: noGrid, border: noBorder,
            ticks: { font: tickFont, color: '#000', padding: 8, maxRotation: 0, minRotation: 0, autoSkip: false, callback: (v: any) => fmt(Number(v), 0) },
            afterBuildTicks: (s: any) => { s.ticks = histTicks.map((v) => ({ value: v })); },
            afterFit: fixH(149.6) },
          y: { type: 'linear', min: -42.2, max: 42.2, grid: noGrid, border: noBorder, ticks: { display: false },
            afterBuildTicks: (s: any) => { s.ticks = dwTicks.map((v) => ({ value: v })); },
            afterFit: fixW(42) },
        },
      },
      plugins: [framePlugin(histTicks, dwTicks)],
    } as any));

    return () => charts.forEach((c) => c.destroy());
  }, []);

  const ann = 52;
  const annTop = (b: number) => b - 0.8465 * ann;
  const sub: React.CSSProperties = { fontSize: 36, position: 'relative', top: 14 };
  const annLine = (b: number): React.CSSProperties => ({ position: 'absolute', left: 281, top: annTop(b), fontSize: ann, lineHeight: `${ann}px`, whiteSpace: 'nowrap' });

  const lg = 48;
  const lgSub: React.CSSProperties = { fontSize: 34, position: 'relative', top: 13 };
  const lgText = (b: number): React.CSSProperties => ({ position: 'absolute', left: 1653, top: b - 0.8465 * lg, fontSize: lg, lineHeight: `${lg}px`, whiteSpace: 'nowrap' });
  const lgLine = (y: number, bg: string): React.CSSProperties => ({ position: 'absolute', left: 1513, top: y - 4, width: 104, height: 8, background: bg });

  return (
    <div style={{ position: 'absolute', left: 0, top: 0, width: 2057, height: 1838, overflow: 'hidden', background: '#fff', fontFamily: FONT, color: '#000' }}>
      <canvas ref={topRef} width={1500} height={440} style={{ position: 'absolute', left: 0, top: 0, width: 1500, height: 440 }} />
      <canvas ref={mainRef} width={1600} height={1418} style={{ position: 'absolute', left: 0, top: 420, width: 1600, height: 1418 }} />
      <canvas ref={sideRef} width={577} height={1418} style={{ position: 'absolute', left: 1480, top: 420, width: 577, height: 1418 }} />

      {/* legend */}
      <div style={{ position: 'absolute', left: 1498, top: 15, width: 545, height: 313, border: '2.5px solid #d4d4d4', borderRadius: 10, background: 'rgba(255,255,255,0.85)' }} />
      <div style={lgLine(52.5, 'rgb(65,105,225)')} />
      <div style={lgLine(123.8, 'repeating-linear-gradient(to right, #ff0000 0px, #ff0000 29.6px, transparent 29.6px, transparent 42.4px)')} />
      <div style={lgLine(195.8, '#000')} />
      <div style={lgLine(273.3, 'rgb(128,128,128)')} />
      <div style={lgText(69.3)}>Current (kA)</div>
      <div style={lgText(137.7)}>E.spread (×0.1%)</div>
      <div style={lgText(210)}><i>ε</i><span style={lgSub}>nx</span> (×10 nm)</div>
      <div style={lgText(287.3)}><i>ε</i><span style={lgSub}>ny</span> (×10 nm)</div>

      {/* annotations */}
      <div style={annLine(501.7)}><i>Q</i> = 5 pC</div>
      <div style={annLine(566.7)}><i>σ</i><span style={sub}><i>ξ</i>, rms</span> = 0.3 μm</div>
      <div style={annLine(643.5)}><i>W</i><span style={sub}>mean</span> = 1631.1 MeV</div>
      <div style={annLine(717.5)}>Δ<i>W</i><span style={sub}>rms</span>/<i>W</i><span style={sub}>mean</span> = 0.15 %</div>
      <div style={annLine(792.7)}><i>ε</i><span style={sub}>n</span> = 33 nm</div>
      <div style={annLine(873)}><i>B</i><span style={sub}>6D</span> = 1.2e+03kA/μm<span style={{ fontSize: 36, position: 'relative', top: -30, marginLeft: 3 }}>2</span>/0.1%bw</div>

      {/* axis titles */}
      <div style={{ position: 'absolute', left: 861 - 300, top: 1823 - 0.8465 * 60, width: 600, textAlign: 'center', fontSize: 60, lineHeight: '60px', whiteSpace: 'nowrap' }}><i>ξ</i> (μm)</div>
      <div style={{ position: 'absolute', left: 1714 - 300, top: 1823 - 0.8465 * 60, width: 600, textAlign: 'center', fontSize: 60, lineHeight: '60px', whiteSpace: 'nowrap' }}>N (a.u.)</div>
      <div style={{ position: 'absolute', left: 61 - 300, top: 1064 - 30, width: 600, height: 60, textAlign: 'center', fontSize: 60, lineHeight: '60px', whiteSpace: 'nowrap', transform: 'rotate(-90deg)' }}>Δ<i>W</i> (MeV)</div>
    </div>
  );
}
